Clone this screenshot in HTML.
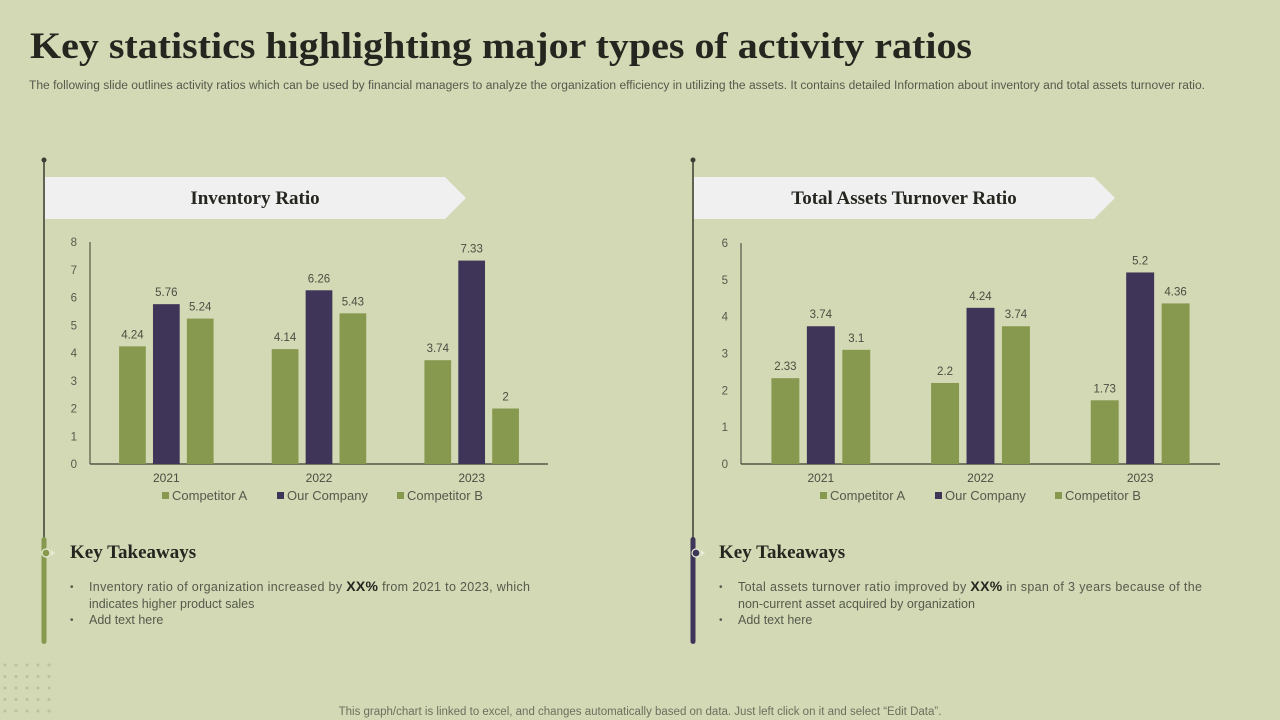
<!DOCTYPE html>
<html><head><meta charset="utf-8"><style>
html,body{margin:0;padding:0;background:#d3d9b4;}
svg{display:block;font-family:"Liberation Sans",sans-serif;}
</style></head><body>
<svg id="s" width="1280" height="720" viewBox="0 0 1280 720">
<rect width="1280" height="720" fill="#d3d9b4"/>
<text x="30" y="58" font-family="Liberation Serif,serif" font-weight="bold" font-size="37" fill="#24261f" textLength="942" lengthAdjust="spacingAndGlyphs">Key statistics highlighting major types of activity ratios</text>
<text x="29" y="89" font-size="11.5" fill="#555a4c" textLength="1176" lengthAdjust="spacingAndGlyphs">The following slide outlines activity ratios which can be used by financial managers to analyze the organization efficiency in utilizing the assets. It contains detailed Information about  inventory and total assets turnover ratio.</text>

<!-- timelines -->
<line x1="44" y1="160" x2="44" y2="540" stroke="#3a3d33" stroke-width="1.5"/>
<circle cx="44" cy="160" r="2.5" fill="#3a3d33"/>
<rect x="41.5" y="537" width="5" height="107" rx="2.5" fill="#87994f"/>
<circle cx="46" cy="553" r="4" fill="#87994f" stroke="#e8ecd6" stroke-width="1.2"/>
<path d="M51 550 L55 553 L51 556Z" fill="#e8ecd6"/>
<line x1="693" y1="160" x2="693" y2="540" stroke="#3a3d33" stroke-width="1.5"/>
<circle cx="693" cy="160" r="2.5" fill="#3a3d33"/>
<rect x="690.5" y="537" width="5" height="107" rx="2.5" fill="#3f3558"/>
<circle cx="696" cy="553" r="4" fill="#3f3558" stroke="#e8ecd6" stroke-width="1.2"/>
<path d="M701 550 L705 553 L701 556Z" fill="#e8ecd6"/>

<!-- banners -->
<path d="M45 177 L445 177 L466 198 L445 219 L45 219Z" fill="#f0f0f0"/>
<text x="255" y="204" text-anchor="middle" font-family="Liberation Serif,serif" font-weight="bold" font-size="19" fill="#24261f">Inventory Ratio</text>
<path d="M694 177 L1094 177 L1115 198 L1094 219 L694 219Z" fill="#f0f0f0"/>
<text x="904" y="204" text-anchor="middle" font-family="Liberation Serif,serif" font-weight="bold" font-size="19" fill="#24261f">Total Assets Turnover Ratio</text>

<g id="c1"></g>
<g id="c2"></g>

<!-- takeaways -->
<text x="70" y="558" font-family="Liberation Serif,serif" font-weight="bold" font-size="19" fill="#24261f">Key Takeaways</text>
<g font-size="12.5" fill="#555a4c">
<text x="70" y="590" font-size="10">•</text>
<text x="89" y="591" textLength="441" lengthAdjust="spacing">Inventory ratio of organization increased by <tspan font-weight="bold" font-size="14" fill="#24261f">XX%</tspan> from 2021 to 2023, which</text>
<text x="89" y="608">indicates higher product sales</text>
<text x="70" y="623" font-size="10">•</text>
<text x="89" y="624">Add text here</text>
</g>
<text x="719" y="558" font-family="Liberation Serif,serif" font-weight="bold" font-size="19" fill="#24261f">Key Takeaways</text>
<g font-size="12.5" fill="#555a4c">
<text x="719" y="590" font-size="10">•</text>
<text x="738" y="591" textLength="464" lengthAdjust="spacing">Total assets turnover ratio improved by <tspan font-weight="bold" font-size="14" fill="#24261f">XX%</tspan> in span of 3 years because of the</text>
<text x="738" y="608">non-current asset acquired by organization</text>
<text x="719" y="623" font-size="10">•</text>
<text x="738" y="624">Add text here</text>
</g>

<g id="dots"></g>
<text x="640" y="715" text-anchor="middle" font-size="11.5" fill="#6b705f">This graph/chart is linked to excel, and changes automatically based on data. Just left click on it and select “Edit Data”.</text>
</svg>
<script>
const categories = ["2021","2022","2023"];
const seriesNames = ["Competitor A","Our Company","Competitor B"];
const inventoryCompA = [4.24,4.14,3.74];
const inventoryOurCo = [5.76,6.26,7.33];
const inventoryCompB = [5.24,5.43,2];
const inventoryTicks = [0,1,2,3,4,5,6,7,8];
const assetsCompA = [2.33,2.2,1.73];
const assetsOurCo = [3.74,4.24,5.2];
const assetsCompB = [3.1,3.74,4.36];
const assetsTicks = [0,1,2,3,4,5,6];
const colors = ["#87994f","#3f3558","#87994f"];
const NS = "http://www.w3.org/2000/svg";
function mk(parent, tag, attrs, txt){
  const e = document.createElementNS(NS, tag);
  for (const k in attrs) e.setAttribute(k, attrs[k]);
  if (txt !== undefined) e.textContent = txt;
  parent.appendChild(e);
  return e;
}
function drawChart(gid, series, ticks, x0, x1, y0, y1, legendX){
  const g = document.getElementById(gid);
  const maxV = ticks[ticks.length-1];
  const yS = v => y0 - (v / maxV) * (y0 - y1);
  const catW = (x1 - x0) / categories.length;
  const xC = i => x0 + catW * (i + 0.5);
  ticks.forEach(t => {
    const e = mk(g, "text", {x: x0 - 13, y: yS(t) + 4, "text-anchor": "end", "font-size": 11.5, fill: "#555a4c"}, String(t));
    
    
  });
  const ax = mk(g, "line", {x1: x0, y1: y1, x2: x0, y2: y0, stroke: "#3a3d33", "stroke-width": 1});
  
  
  const bx = mk(g, "line", {x1: x0, y1: y0, x2: x1, y2: y0, stroke: "#3a3d33", "stroke-width": 1.2});
  
  
  const bw = catW * 0.175, step = catW * 0.222;
  categories.forEach((c, i) => {
    series.forEach((s, j) => {
      const cx = xC(i) + (j - 1) * step;
      const v = s[i];
      const r = mk(g, "rect", {x: cx - bw/2, y: yS(v), width: bw, height: y0 - yS(v), fill: colors[j]});
      
      
      const l = mk(g, "text", {x: cx, y: yS(v) - 8, "text-anchor": "middle", "font-size": 11.5, fill: "#4a4e42"}, String(v));
      
      
    });
    const t = mk(g, "text", {x: xC(i), y: y0 + 18, "text-anchor": "middle", "font-size": 12, fill: "#4a4e42"}, c);
    
    
  });
  const lx = [legendX, legendX + 115, legendX + 235];
  seriesNames.forEach((n, j) => {
    const sw = mk(g, "rect", {x: lx[j], y: y0 + 28, width: 7, height: 7, fill: colors[j]});
    
    
    const t = mk(g, "text", {x: lx[j] + 10, y: y0 + 36, "font-size": 13, fill: "#555a4c"}, n);
    
    
  });
}
drawChart("c1", [inventoryCompA, inventoryOurCo, inventoryCompB], inventoryTicks, 90, 548, 464, 242, 162);
drawChart("c2", [assetsCompA, assetsOurCo, assetsCompB], assetsTicks, 741, 1220, 464, 243, 820);
const dg = document.getElementById("dots");
for (let r = 0; r < 5; r++) for (let c = 0; c < 5; c++) {
  const d = mk(dg, "circle", {cx: 5 + c * 11, cy: 665 + r * 11.5, r: 1.5, fill: "#b9c09c"});
  
  
}
</script>
</body></html>
